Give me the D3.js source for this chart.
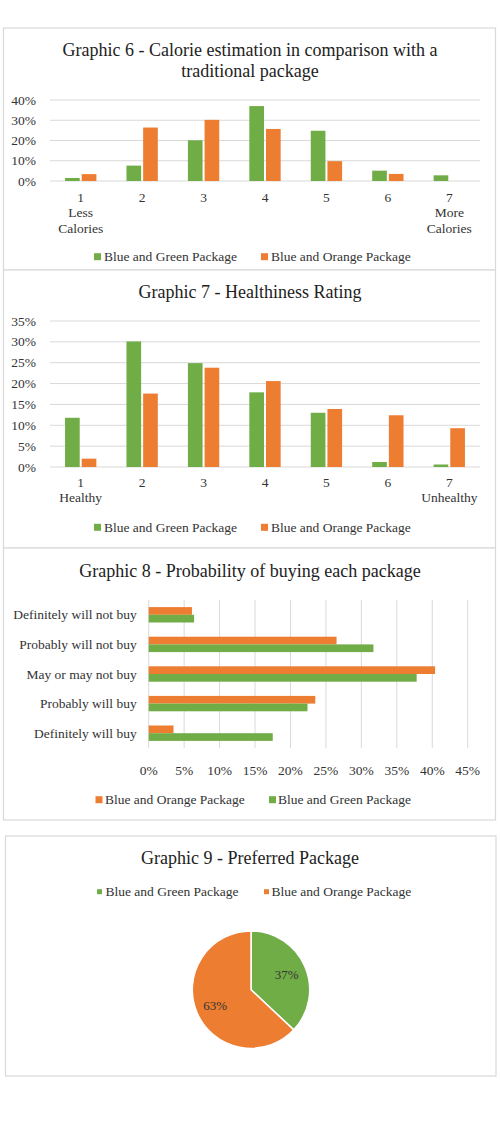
<!DOCTYPE html>
<html><head><meta charset="utf-8">
<script src="https://cdn.jsdelivr.net/npm/d3@7"></script>
<style>body{margin:0;background:#fff}svg{display:block}text{font-family:"Liberation Serif","Times New Roman",serif}</style>
</head><body><svg id="c" width="501" height="1137"></svg>
<script>
// ---- data ----
const seriesNames = ["Blue and Green Package", "Blue and Orange Package"];
const scaleCats = ["1", "2", "3", "4", "5", "6", "7"];
const calorieGreen = [1.5, 7.6, 20.1, 37.0, 24.8, 5.1, 2.8];
const calorieOrange = [3.4, 26.4, 30.2, 25.7, 9.8, 3.5, 0];
const calorieTicks = [0, 10, 20, 30, 40];
const healthGreen = [11.8, 30.1, 24.9, 17.9, 13.0, 1.2, 0.6];
const healthOrange = [2.0, 17.6, 23.8, 20.6, 13.9, 12.4, 9.3];
const healthTicks = [0, 5, 10, 15, 20, 25, 30, 35];
const buyCats = ["Definitely will not buy", "Probably will not buy", "May or may not buy", "Probably will buy", "Definitely will buy"];
const buyOrange = [6.1, 26.5, 40.4, 23.5, 3.5];
const buyGreen = [6.4, 31.7, 37.8, 22.4, 17.5];
const buyTicks = [0, 5, 10, 15, 20, 25, 30, 35, 40, 45];
const prefValues = [37, 63];

const GREEN = "#70ad47", ORANGE = "#ed7d31", GRID = "#d9d9d9", TXT = "#333", TTL = "#222";
const svg = d3.select("#c");
svg.append("rect").attr("width", 501).attr("height", 1137).attr("fill", "#fff");

function panel(x, y, w, h) {
  svg.append("rect").attr("x", x).attr("y", y).attr("width", w).attr("height", h)
    .attr("fill", "#fff").attr("stroke", GRID).attr("stroke-width", 1.2);
}
function title(lines, y0, step) {
  lines.forEach((t, i) => svg.append("text").attr("x", 250).attr("y", y0 + i * step)
    .attr("text-anchor", "middle").attr("font-size", 18).attr("fill", TTL).text(t));
}
function legend(items, y, sq) {
  items.forEach(it => {
    svg.append("rect").attr("x", it.x).attr("y", y - sq / 2).attr("width", sq).attr("height", sq).attr("fill", it.color);
    svg.append("text").attr("x", it.tx).attr("y", y + 4.5).attr("font-size", 13.5).attr("fill", TXT).text(it.label);
  });
}

function columnChart(opts) {
  const x = d3.scaleBand().domain(scaleCats).range([50, 480]).paddingInner(0.49).paddingOuter(0.245);
  const xs = d3.scaleBand().domain([0, 1]).range([0, x.bandwidth()]).paddingInner(0.12);
  const y = d3.scaleLinear().domain([0, opts.max]).range([opts.y0, opts.y1]);
  const g = svg.append("g");
  g.selectAll("line.grid").data(opts.ticks).join("line")
    .attr("x1", 50).attr("x2", 480).attr("y1", d => y(d)).attr("y2", d => y(d))
    .attr("stroke", GRID).attr("stroke-width", 1);
  g.selectAll("text.yt").data(opts.ticks).join("text")
    .attr("x", 36).attr("y", d => y(d) + 4.5).attr("text-anchor", "end")
    .attr("font-size", 13.5).attr("fill", TXT).text(d => d + "%");
  [opts.green, opts.orange].forEach((vals, si) => {
    g.selectAll(null).data(vals).join("rect")
      .attr("x", (d, i) => x(scaleCats[i]) + xs(si)).attr("width", xs.bandwidth())
      .attr("y", d => y(d)).attr("height", d => y(0) - y(d))
      .attr("fill", si === 0 ? GREEN : ORANGE);
  });
  scaleCats.forEach((c, i) => {
    const cx = x(c) + x.bandwidth() / 2;
    const lines = [c].concat(opts.sub[i] || []);
    lines.forEach((t, j) => g.append("text").attr("x", cx).attr("y", opts.labY + j * 15.5)
      .attr("text-anchor", "middle").attr("font-size", 13.5).attr("fill", TXT).text(t));
  });
}

// ---- Graphic 6 ----
panel(3.5, 28, 492, 242);
title(["Graphic 6 - Calorie estimation in comparison with a", "traditional package"], 56, 21);
columnChart({ green: calorieGreen, orange: calorieOrange, max: 40, ticks: calorieTicks, y0: 181, y1: 100,
  labY: 201.5, sub: [["Less", "Calories"], [], [], [], [], [], ["More", "Calories"]] });
legend([{ x: 94, tx: 104, color: GREEN, label: seriesNames[0] }, { x: 261, tx: 271, color: ORANGE, label: seriesNames[1] }], 256.7, 7);

// ---- Graphic 7 ----
panel(3.5, 270, 492, 278);
title(["Graphic 7 - Healthiness Rating"], 298, 0);
columnChart({ green: healthGreen, orange: healthOrange, max: 35, ticks: healthTicks, y0: 467, y1: 321,
  labY: 486.5, sub: [["Healthy"], [], [], [], [], [], ["Unhealthy"]] });
legend([{ x: 94, tx: 104, color: GREEN, label: seriesNames[0] }, { x: 261, tx: 271, color: ORANGE, label: seriesNames[1] }], 527.3, 7);

// ---- Graphic 8 ----
panel(3.5, 548, 492, 272);
title(["Graphic 8 - Probability of buying each package"], 577, 0);
{
  const x = d3.scaleLinear().domain([0, 45]).range([148.7, 467.7]);
  const y = d3.scaleBand().domain(buyCats).range([600, 748]).paddingInner(0.48).paddingOuter(0.24);
  const ys = d3.scaleBand().domain([0, 1]).range([0, y.bandwidth()]);
  const g = svg.append("g");
  g.selectAll(null).data(buyTicks).join("line")
    .attr("x1", d => x(d)).attr("x2", d => x(d)).attr("y1", 600).attr("y2", 748)
    .attr("stroke", GRID).attr("stroke-width", 1);
  g.selectAll(null).data(buyTicks).join("text")
    .attr("x", d => x(d)).attr("y", 775).attr("text-anchor", "middle")
    .attr("font-size", 13.5).attr("fill", TXT).text(d => d + "%");
  [buyOrange, buyGreen].forEach((vals, si) => {
    g.selectAll(null).data(vals).join("rect")
      .attr("x", x(0)).attr("width", d => x(d) - x(0))
      .attr("y", (d, i) => y(buyCats[i]) + ys(si)).attr("height", ys.bandwidth())
      .attr("fill", si === 0 ? ORANGE : GREEN);
  });
  g.selectAll(null).data(buyCats).join("text")
    .attr("x", 136.7).attr("y", d => y(d) + y.bandwidth() / 2 + 4.5).attr("text-anchor", "end")
    .attr("font-size", 13.5).attr("fill", TXT).text(d => d);
  legend([{ x: 95.5, tx: 105, color: ORANGE, label: seriesNames[1] }, { x: 269, tx: 278, color: GREEN, label: seriesNames[0] }], 799.7, 7);
}

// ---- Graphic 9 ----
panel(5.5, 836, 490.5, 240);
title(["Graphic 9 - Preferred Package"], 864, 0);
legend([{ x: 97, tx: 105.5, color: GREEN, label: seriesNames[0] }, { x: 264, tx: 271.5, color: ORANGE, label: seriesNames[1] }], 891.7, 5);
{
  const cx = 251, cy = 989.7, r = 58.7;
  const pie = d3.pie().sort(null).value(d => d);
  const arcs = pie(prefValues);
  const arc = d3.arc().innerRadius(0).outerRadius(r);
  const lab = d3.arc().innerRadius(39).outerRadius(39);
  const g = svg.append("g").attr("transform", `translate(${cx},${cy})`);
  g.selectAll(null).data(arcs).join("path").attr("d", arc)
    .attr("fill", (d, i) => i === 0 ? GREEN : ORANGE).attr("stroke", "#fff").attr("stroke-width", 1.5);
  g.selectAll(null).data(arcs).join("text")
    .attr("transform", d => `translate(${lab.centroid(d)})`).attr("dy", 4.5)
    .attr("text-anchor", "middle").attr("font-size", 13).attr("fill", "#333")
    .text(d => d.data + "%");
}
</script></body></html>
